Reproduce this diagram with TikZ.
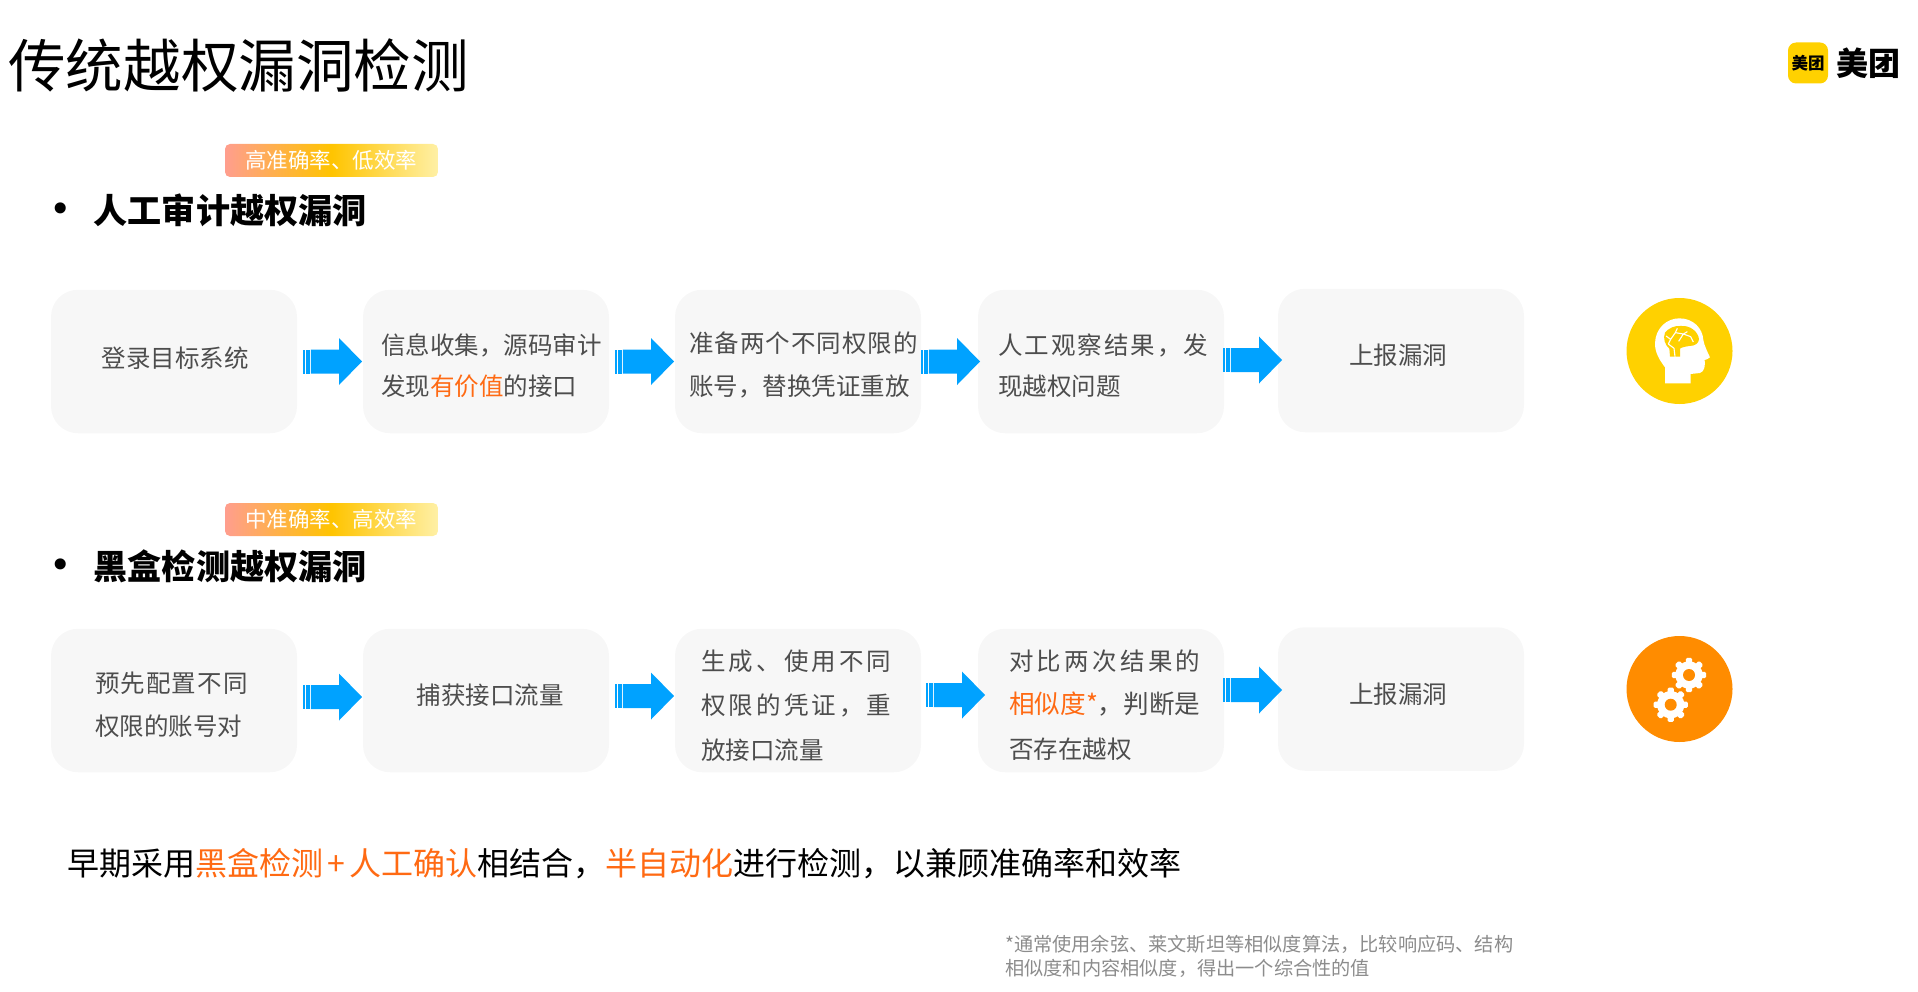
\documentclass[tikz,border=0pt]{standalone}
\usepackage{fontspec}
\setmainfont{Noto Sans CJK SC}
\newfontfamily\dotfont{DejaVu Sans}
\usetikzlibrary{calc}
\definecolor{boxfill}{HTML}{F7F7F7}
\definecolor{bodytext}{HTML}{4D4D4D}
\definecolor{accent}{HTML}{FF6A13}
\definecolor{arrowblue}{HTML}{00A2FF}
\definecolor{gold}{HTML}{FFD100}
\definecolor{deeporange}{HTML}{FF8C00}
\definecolor{notegray}{HTML}{8C8C8C}
\definecolor{chipa}{HTML}{FF9E8E}
\definecolor{chipb}{HTML}{FFC400}
\definecolor{chipc}{HTML}{FFF0A5}
\pgfdeclarehorizontalshading{chipgrad}{100bp}{color(0bp)=(chipa);color(25bp)=(chipa);color(50bp)=(chipb);color(75bp)=(chipc);color(100bp)=(chipc)}
\newcommand\fsz[1]{\fontsize{#1pt}{#1pt}\selectfont}
\newcommand\hl[1]{\textcolor{accent}{#1}}
\newcommand\lsp[2]{{\addfontfeature{LetterSpace=#1}#2}}
\tikzset{
  flowbox/.style={fill=boxfill,rounded corners=27pt,inner sep=0pt,minimum width=246pt,minimum height=143.5pt},
  txt/.style={inner sep=0pt,text=bodytext,font=\fsz{24.5}},
  txtl/.style={txt,anchor=west},
  head/.style={inner sep=0pt,anchor=west,font=\fsz{34.1}\bfseries,text=black},
  bulletdot/.style={inner sep=0pt,font=\dotfont\fsz{38}},
  chiptext/.style={inner sep=0pt,text=white,font=\fsz{21.5}},
  flowarrow/.pic={
    \fill[arrowblue] (0,-12) rectangle (2,12);
    \fill[arrowblue] (3.2,-12) rectangle (6.8,12);
    \fill[arrowblue] (7.8,-12) -- (36,-12) -- (36,-23.5) -- (59,0) -- (36,23.5) -- (36,12) -- (7.8,12) -- cycle;
  },
  gear/.pic={
    \fill[white] (0,0) circle (13.6);
    \foreach \a in {0,45,...,315}{
      \fill[white,rotate=\a,rounded corners=1.5pt] (-3.2,-10) rectangle (3.2,-17.2);
    }
    \fill[deeporange] (0,0) circle (6);
  }
}
\begin{document}
\begin{tikzpicture}[x=1pt,y=-1pt]
\useasboundingbox (0,0) rectangle (1918,992);
% title
\node[inner sep=0pt,anchor=west,font=\fsz{57.6}] (title) at (8,66) {传统越权漏洞检测};
% logo
\node[fill=gold,rounded corners=8pt,minimum width=40pt,minimum height=41pt,inner sep=0pt,font=\fsz{16.5}\bfseries] (logomark) at (1808,63) {美团};
\node[inner sep=0pt,font=\fsz{32}\bfseries] (logotext) at (1868.5,63) {美团};
% row 1 heading
\shade[shading=chipgrad,rounded corners=5pt] (225,144) rectangle (438,177);
\node[chiptext] (chipa) at (331,160.5) {高准确率、低效率};
\node[bulletdot] (bula) at (61,213) {•};
\node[head] (heada) at (93.5,210) {人工审计越权漏洞};
% row 1 boxes
\node[flowbox] (a1) at (174,361.5) {};
\node[flowbox] (a2) at (486,361.5) {};
\node[flowbox] (a3) at (798,361.5) {};
\node[flowbox] (a4) at (1101,361.5) {};
\node[flowbox] (a5) at (1401,360.5) {};
\node[txt] (ta1) at (175,358) {登录目标系统};
\node[txtl] (ta2a) at (381,345) {信息收集，源码审计};
\node[txtl] (ta2b) at (381,386.5) {发现\hl{有价值}的接口};
\node[txtl] (ta3a) at (689,343) {\lsp{4}{准备两个不同权限的}};
\node[txtl] (ta3b) at (689,386.5) {账号，替换凭证重放};
\node[txtl] (ta4a) at (998,345) {\lsp{8.2}{人工观察结果，发}};
\node[txtl] (ta4b) at (998,386.5) {现越权问题};
\node[txt] (ta5) at (1398,355) {上报漏洞};
\pic at (303,361.5) {flowarrow};
\pic at (615,361.5) {flowarrow};
\pic at (921,361.5) {flowarrow};
\pic at (1223,360) {flowarrow};
% brain icon
\fill[gold] (1679.5,351) circle (53);
\begin{scope}[shift={(1600,280)},x=0.3333pt,y=-0.3333pt]
\fill[white] (195,310) -- (195,262) .. controls (178,240) and (164,215) .. (165,190)
  .. controls (166,145) and (200,115) .. (238,115)
  .. controls (280,115) and (308,145) .. (310,180)
  .. controls (312,195) and (325,222) .. (330,232)
  .. controls (325,238) and (318,238) .. (314,240)
  .. controls (316,255) and (314,275) .. (300,279)
  -- (272,282) -- (272,310) -- cycle;
\fill[gold] (210,230) -- (208,206) .. controls (195,195) and (188,175) .. (195,158)
  .. controls (205,145) and (225,135) .. (245,138)
  .. controls (270,136) and (295,155) .. (297,178)
  .. controls (296,190) and (285,198) .. (268,198)
  .. controls (255,200) and (245,202) .. (240,206) -- (240,230) -- cycle;
\draw[white,line width=1.1pt,line join=round]
  (198,168) -- (212,178) -- (205,192)
  (212,178) -- (226,158) -- (232,145)
  (226,158) -- (250,162) -- (262,155)
  (250,162) -- (236,184)
  (250,162) -- (272,170) -- (280,186)
  (205,192) -- (222,205) -- (225,230);
\end{scope}
% row 2 heading
\shade[shading=chipgrad,rounded corners=5pt] (225,503) rectangle (438,536);
\node[chiptext] (chipb) at (331,519.5) {中准确率、高效率};
\node[bulletdot] (bulb) at (61,569) {•};
\node[head] (headb) at (93.5,566) {黑盒检测越权漏洞};
% row 2 boxes
\node[flowbox] (b1) at (174,700.5) {};
\node[flowbox] (b2) at (486,700.5) {};
\node[flowbox] (b3) at (798,700.5) {};
\node[flowbox] (b4) at (1101,700.5) {};
\node[flowbox] (b5) at (1401,699) {};
\node[txtl] (tb1a) at (95,683) {\lsp{4.5}{预先配置不同}};
\node[txtl] (tb1b) at (95,726) {权限的账号对};
\node[txt] (tb2) at (490,695) {捕获接口流量};
\node[txtl] (tb3a) at (701,661) {\lsp{12.7}{生成、使用不同}};
\node[txtl] (tb3b) at (701,705) {\lsp{12.7}{权限的凭证，重}};
\node[txtl] (tb3c) at (701,750) {放接口流量};
\node[txtl] (tb4a) at (1009,661) {\lsp{13.3}{对比两次结果的}};
\node[txtl,font=\fsz{25.6}] (tb4b) at (1009,704) {\hl{相似度*}，判断是};
\node[txtl] (tb4c) at (1009,749) {否存在越权};
\node[txt] (tb5) at (1398,694) {上报漏洞};
\pic at (303,697) {flowarrow};
\pic at (615,696) {flowarrow};
\pic at (926,695) {flowarrow};
\pic at (1223,690) {flowarrow};
% gears icon
\fill[deeporange] (1679.5,689) circle (53);
\pic at (1689,675) {gear};
\pic at (1670.7,704.7) {gear};
% bottom
\node[inner sep=0pt,anchor=west,font=\fsz{32}] (summary) at (67,864) {早期采用\hl{黑盒检测\hspace{4.5pt}+\hspace{4.5pt}人工确认}相结合，\hl{半自动化}进行检测，以兼顾准确率和效率};
\node[inner sep=0pt,anchor=west,text=notegray,font=\fsz{19.2}] (notea) at (1005,944) {*通常使用余弦、莱文斯坦等相似度算法，比较响应码、结构};
\node[inner sep=0pt,anchor=west,text=notegray,font=\fsz{19.2}] (noteb) at (1005,968) {相似度和内容相似度，得出一个综合性的值};
\end{tikzpicture}
\end{document}
